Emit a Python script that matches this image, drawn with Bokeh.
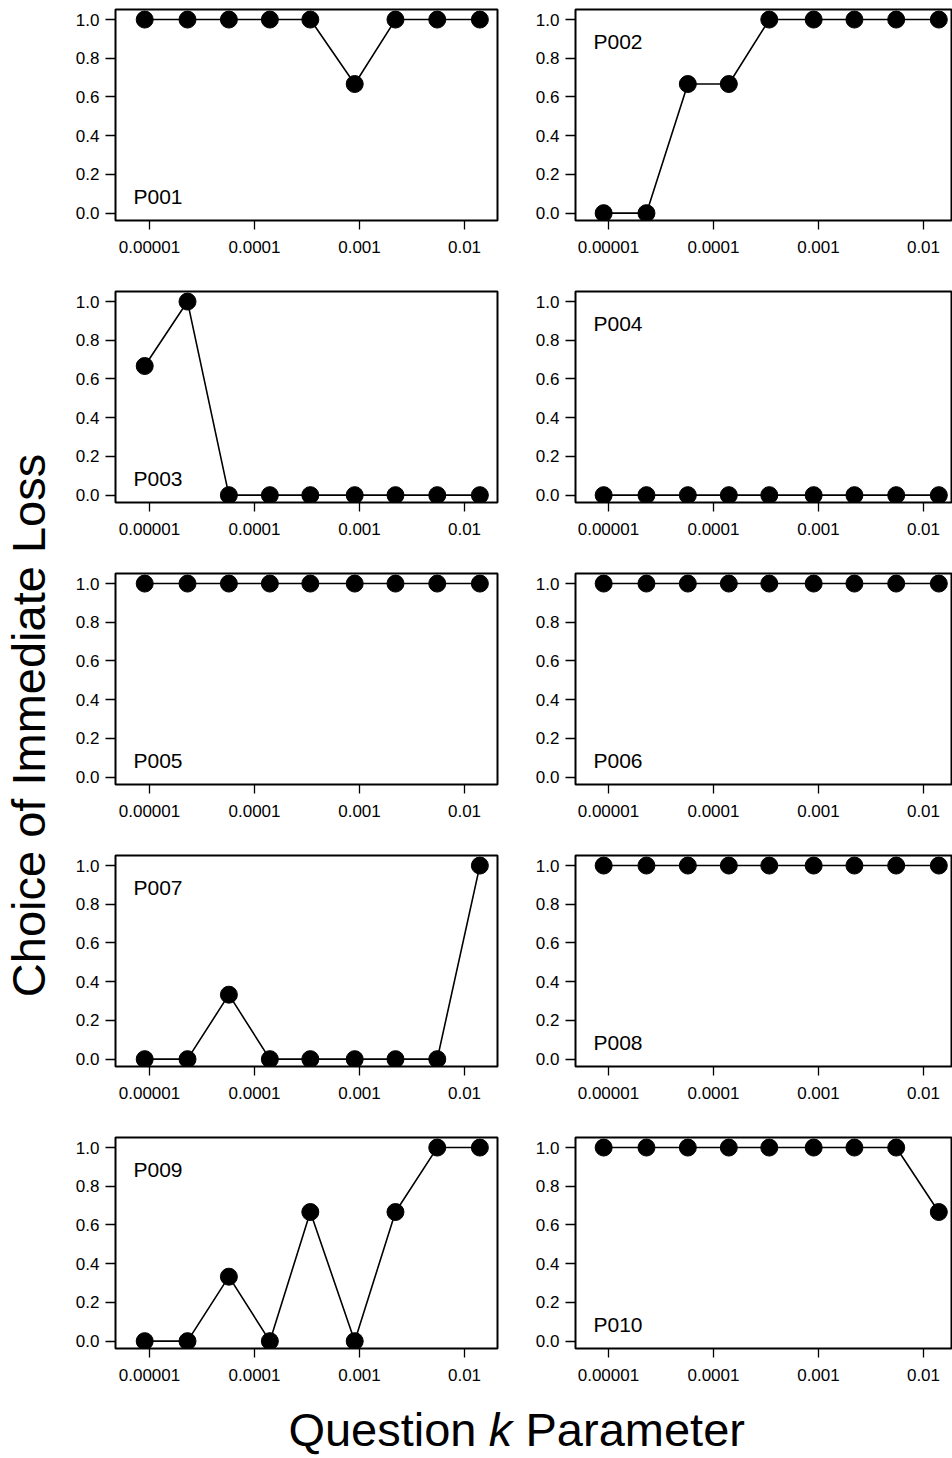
import math
from bokeh.plotting import figure
from bokeh.models import Range1d, FixedTicker, Label, NumeralTickFormatter
from bokeh.layouts import row, column
from bokeh.embed import file_html
from bokeh.resources import INLINE

# ---------------- data ----------------
k_values = [0.000009, 0.000023, 0.000057, 0.00014, 0.00034, 0.0009, 0.0022, 0.0055, 0.014]

participants = ["P001", "P002", "P003", "P004", "P005",
                "P006", "P007", "P008", "P009", "P010"]

p001 = [1, 1, 1, 1, 1, 0.667, 1, 1, 1]
p002 = [0, 0, 0.667, 0.667, 1, 1, 1, 1, 1]
p003 = [0.667, 1, 0, 0, 0, 0, 0, 0, 0]
p004 = [0, 0, 0, 0, 0, 0, 0, 0, 0]
p005 = [1, 1, 1, 1, 1, 1, 1, 1, 1]
p006 = [1, 1, 1, 1, 1, 1, 1, 1, 1]
p007 = [0, 0, 0.333, 0, 0, 0, 0, 0, 1]
p008 = [1, 1, 1, 1, 1, 1, 1, 1, 1]
p009 = [0, 0, 0.333, 0, 0.667, 0, 0.667, 1, 1]
p010 = [1, 1, 1, 1, 1, 1, 1, 1, 0.667]

series = [p001, p002, p003, p004, p005, p006, p007, p008, p009, p010]
label_corner = ["bottom", "top", "bottom", "top", "bottom",
                "bottom", "top", "bottom", "top", "bottom"]

x_ticks = [0.00001, 0.0001, 0.001, 0.01]
x_tick_labels = ["0.00001", "0.0001", "0.001", "0.01"]
y_ticks = [0.0, 0.2, 0.4, 0.6, 0.8, 1.0]

y_title = "Choice of Immediate Loss"
x_title_parts = ["Question", "k", "Parameter"]

# ---------------- style / layout ----------------
FONT = "Liberation Sans"
TITLE_SIZE = "47px"
PX_PER_DECADE = 105.0
ROW_H = 282
LAST_ROW_H = 262
FRAME_H = 211
TOP_BORDER = 9
COLS = [
    dict(width=442, mbl=55, mbr=5, frame_w=382, left_dec=-5.324),
    dict(width=450, mbl=73, mbr=0, frame_w=377, left_dec=-5.314),
]


def make_panel(name, values, corner, col, height):
    c = COLS[col]
    lo = 10 ** c["left_dec"]
    hi = 10 ** (c["left_dec"] + c["frame_w"] / PX_PER_DECADE)
    p = figure(width=c["width"], height=height, x_axis_type="log",
               x_range=Range1d(lo, hi), y_range=Range1d(-0.038, 1.052),
               output_backend="svg", toolbar_location=None,
               min_border_left=c["mbl"], min_border_right=c["mbr"],
               min_border_top=TOP_BORDER,
               min_border_bottom=height - FRAME_H - TOP_BORDER)
    p.xgrid.visible = False
    p.ygrid.visible = False
    p.outline_line_color = "black"
    p.outline_line_width = 2
    p.background_fill_color = "white"
    p.border_fill_color = "white"

    p.xaxis.ticker = FixedTicker(ticks=x_ticks)
    p.xaxis.major_label_overrides = {t: l for t, l in zip(x_ticks, x_tick_labels)}
    p.yaxis.ticker = FixedTicker(ticks=y_ticks)
    p.yaxis.formatter = NumeralTickFormatter(format="0.0")
    for ax in (p.xaxis[0], p.yaxis[0]):
        ax.axis_line_color = None
        ax.major_tick_in = 0
        ax.minor_tick_line_color = None
        ax.major_tick_line_color = "black"
        ax.major_tick_line_width = 1.3
        ax.major_label_text_font = FONT
        ax.major_label_text_font_size = "17px"
        ax.major_label_text_color = "black"
    p.xaxis.major_tick_out = 9
    p.xaxis.major_label_standoff = 11
    p.yaxis.major_tick_out = 10
    p.yaxis.major_label_standoff = 6

    p.line(k_values, values, line_color="black", line_width=1.6)
    p.scatter(k_values, values, size=17, fill_color="black", line_color="black")

    ly = 24 if corner == "bottom" else FRAME_H - 32
    p.add_layout(Label(x=18, y=ly, x_units="screen", y_units="screen", text=name,
                       text_font=FONT, text_font_size="21px", text_color="black",
                       text_align="left", text_baseline="alphabetic"))
    return p


rows = []
for r in range(5):
    i, j = 2 * r, 2 * r + 1
    h = LAST_ROW_H if r == 4 else ROW_H
    rows.append(row(make_panel(participants[i], series[i], label_corner[i], 0, h),
                    make_panel(participants[j], series[j], label_corner[j], 1, h)))
grid = column(*rows)

TOTAL_H = 4 * ROW_H + LAST_ROW_H  # 1390

yt = figure(width=60, height=TOTAL_H, x_range=Range1d(0, 60), y_range=Range1d(0, TOTAL_H),
            output_backend="svg", toolbar_location=None, min_border=0,
            x_axis_location=None, y_axis_location=None)
yt.outline_line_color = None
yt.grid.visible = False
yt.add_layout(Label(x=28, y=TOTAL_H - 725, text=y_title, angle=math.pi / 2,
                    text_font=FONT, text_font_size=TITLE_SIZE, text_color="black",
                    text_align="center", text_baseline="alphabetic"))

XT_W = 952
XT_H = 1458 - TOTAL_H  # 68
xt = figure(width=XT_W, height=XT_H, x_range=Range1d(0, XT_W), y_range=Range1d(0, XT_H),
            output_backend="svg", toolbar_location=None, min_border=0,
            x_axis_location=None, y_axis_location=None)
xt.outline_line_color = None
xt.grid.visible = False
TY = 29
xt.add_layout(Label(x=476, y=TY, text=x_title_parts[0], text_font=FONT,
                    text_font_size=TITLE_SIZE, text_color="black",
                    text_align="right", text_baseline="alphabetic"))
xt.add_layout(Label(x=500, y=TY, text=x_title_parts[1], text_font=FONT,
                    text_font_size=TITLE_SIZE, text_font_style="italic", text_color="black",
                    text_align="center", text_baseline="alphabetic"))
xt.add_layout(Label(x=525, y=TY, text=x_title_parts[2], text_font=FONT,
                    text_font_size=TITLE_SIZE, text_color="black",
                    text_align="left", text_baseline="alphabetic"))

layout = column(row(yt, grid), xt)

open("out.html", "w").write(file_html(layout, INLINE))
